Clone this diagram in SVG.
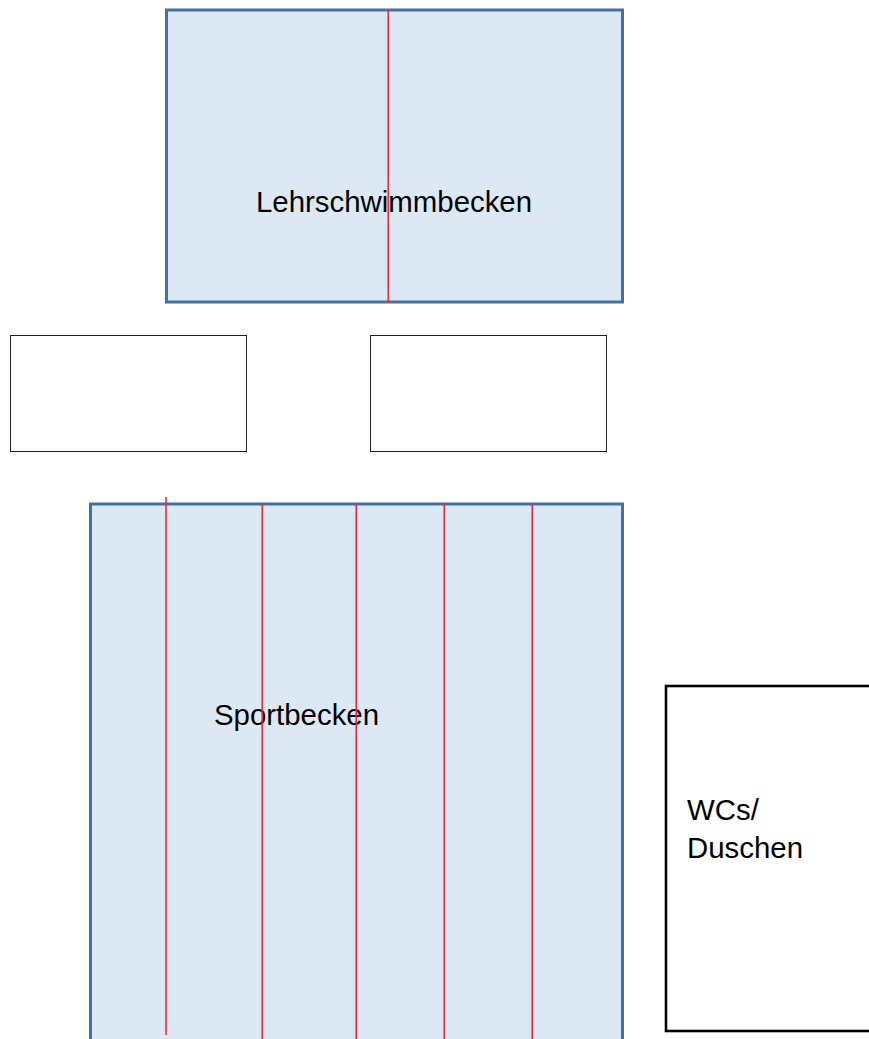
<svg xmlns="http://www.w3.org/2000/svg" width="869" height="1039" viewBox="0 0 869 1039">
<style>
.pool{fill:#dde8f5;stroke:#44719f;stroke-width:3}
.room{fill:#fff;stroke:#222;stroke-width:1}
.lane{stroke:#f5202c;stroke-width:1.5;fill:none}
text{font-family:"Liberation Sans",Arial,sans-serif;font-size:29.4px;fill:#000}
</style>
<rect width="869" height="1039" fill="#fff"/>
<g id="lehrschwimmbecken">
<rect class="pool" x="166.5" y="10" width="456" height="292"/>
<text x="256" y="212">Lehrschwimmbecken</text>
</g>
<g id="raum-links"><rect class="room" x="10.5" y="335.5" width="236" height="116"/></g>
<g id="raum-rechts"><rect class="room" x="370.5" y="335.5" width="236" height="116"/></g>
<g id="sportbecken">
<rect class="pool" x="90.5" y="504" width="532" height="560"/>
<text x="214" y="725">Sportbecken</text>
</g>
<g id="wcs-duschen">
<rect x="666" y="686" width="230" height="345" fill="#fff" stroke="#000" stroke-width="2.6"/>
<text x="687" y="820">WCs/</text>
<text x="687" y="858">Duschen</text>
</g>
<g id="connectors">
<line class="lane" x1="388.2" y1="10" x2="388.2" y2="303"/>
<line class="lane" x1="166" y1="497" x2="166" y2="1035"/>
<line class="lane" x1="262.2" y1="504" x2="262.2" y2="1039"/>
<line class="lane" x1="356.2" y1="504" x2="356.2" y2="1039"/>
<line class="lane" x1="444.2" y1="504" x2="444.2" y2="1039"/>
<line class="lane" x1="532.2" y1="504" x2="532.2" y2="1039"/>
</g>
</svg>
